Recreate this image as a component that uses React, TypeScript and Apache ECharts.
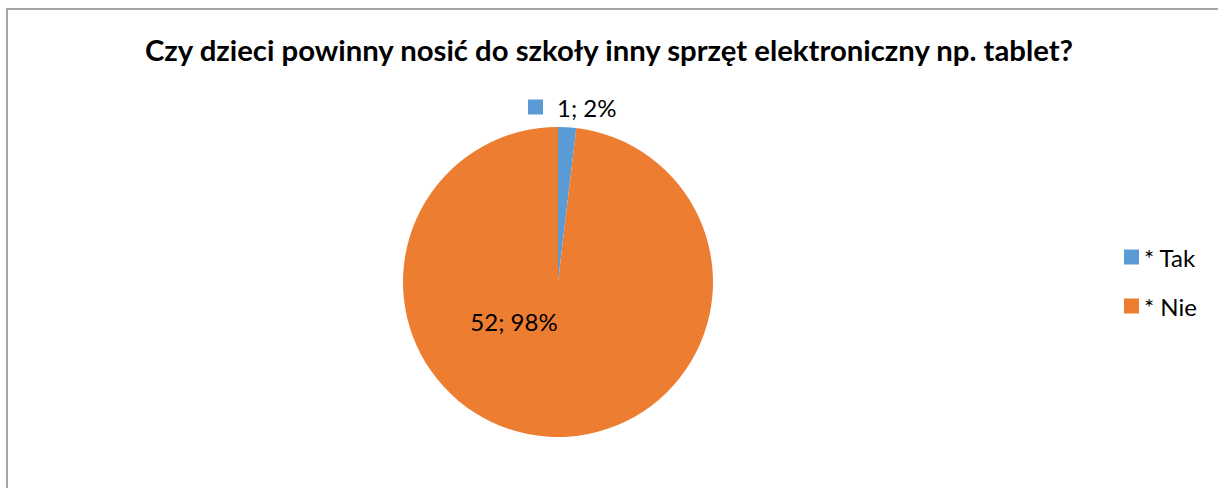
import React, { useEffect, useRef } from "react";
import * as echarts from "echarts";

const titleText = "Czy dzieci powinny nosić do szkoły inny sprzęt elektroniczny np. tablet?";
const categories = ["* Tak", "* Nie"];
const values = [1, 52];
const percents = [2, 98];
const colors = ["#5b9bd5", "#ed7d31"];
const FONT = "Lato, 'Open Sans', sans-serif";

export default function App() {
  const ref = useRef<HTMLDivElement>(null);
  useEffect(() => {
    if (!ref.current) return;
    const chart = echarts.init(ref.current, null, { renderer: "svg" });
    chart.setOption({
      animation: false,
      backgroundColor: "#ffffff",
      color: colors,
      graphic: [
        {
          type: "rect",
          shape: { x: 7, y: 9, width: 1240, height: 520 },
          style: { fill: "none", stroke: "#a6a6a6", lineWidth: 2 },
          silent: true,
        },
      ],
      title: {
        text: titleText,
        left: "center",
        top: 30,
        textStyle: { fontFamily: FONT, fontWeight: "bold", fontSize: 29.3, color: "#000" },
      },
      legend: {
        orient: "vertical",
        left: 1119,
        top: 240,
        itemWidth: 15,
        itemHeight: 15,
        itemGap: 25,
        icon: "rect",
        textStyle: { fontFamily: FONT, fontSize: 24, color: "#000" },
        data: categories,
      },
      series: [
        {
          type: "pie",
          center: [558, 282],
          radius: 155,
          startAngle: 90,
          clockwise: true,
          itemStyle: { borderWidth: 0 },
          labelLine: { show: false },
          label: {
            show: true,
            fontFamily: FONT,
            fontSize: 24,
            color: "#000",
            formatter: (p: any) =>
              p.dataIndex === 0
                ? `{sq|}{gap|}${p.value}; ${percents[p.dataIndex]}%`
                : `${p.value}; ${percents[p.dataIndex]}%`,
            rich: {
              sq: { width: 15, height: 15, backgroundColor: colors[0] },
              gap: { width: 14 },
            },
          },
          labelLayout: (p: any) =>
            p.dataIndex === 0
              ? { x: 528, y: 107, align: "left", verticalAlign: "middle" }
              : { x: 514, y: 321, align: "center", verticalAlign: "middle" },
          data: categories.map((c, i) => ({ name: c, value: values[i] })),
        },
      ],
    });
    return () => chart.dispose();
  }, []);
  return (
    <div
      ref={ref}
      style={{ position: "absolute", left: 0, top: 0, width: 1218, height: 488 }}
    />
  );
}
